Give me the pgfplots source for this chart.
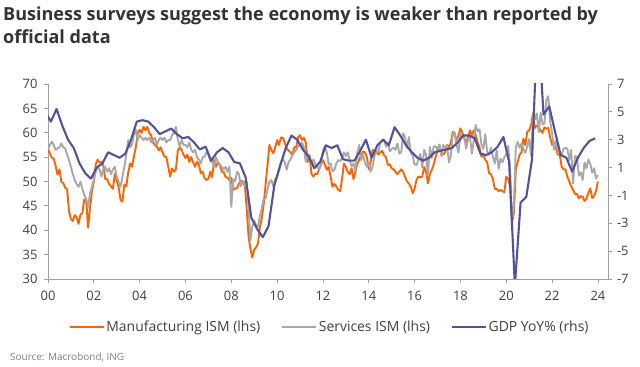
\documentclass[border=0pt]{standalone}
\usepackage{fontspec}
\setmainfont{Open Sans}
\usepackage{pgfplots}
\pgfplotsset{compat=1.18}
\usepackage{pgfplotstable}

\definecolor{ingorange}{HTML}{FF6200}
\definecolor{inggray}{HTML}{A8A8A8}
\definecolor{ingblue}{HTML}{525199}
\definecolor{axcol}{HTML}{A0A0A0}
\definecolor{labcol}{HTML}{404040}
\definecolor{titlecol}{HTML}{333333}
\definecolor{srccol}{HTML}{808080}

\pgfplotsset{legend image code/.code={\draw[#1,line width=1.6pt] (0bp,0bp) -- (34bp,0bp);}}

% Monthly ISM data, Jan 2000 .. Jan 2024 (ism = manufacturing, nmi = services)
\pgfplotstableread[row sep=\\]{
ism nmi\\
56.7 56.5\\ 55.8 57.5\\ 54.9 58.2\\ 54.7 57.5\\ 53.2 56.5\\ 51.4 56.8\\ 52.5 57.0\\ 49.9 57.8\\ 49.7 57.0\\ 48.7 56.8\\ 48.5 55.5\\ 43.9 54.4\\
42.3 53.0\\ 41.9 51.5\\ 43.1 50.3\\ 42.7 49.5\\ 41.3 48.9\\ 43.2 50.0\\ 43.5 48.5\\ 46.3 47.2\\ 46.2 46.5\\ 40.5 44.8\\ 44.5 47.5\\ 48.0 48.9\\
49.9 50.3\\ 53.5 52.0\\ 54.5 53.0\\ 53.9 52.5\\ 54.0 51.0\\ 53.2 52.5\\ 50.5 53.0\\ 50.5 52.0\\ 49.5 52.7\\ 49.0 51.5\\ 48.5 52.5\\ 51.6 53.0\\
50.3 51.0\\ 48.8 50.0\\ 46.2 48.9\\ 45.9 51.0\\ 49.4 53.0\\ 49.0 55.5\\ 51.8 58.5\\ 53.7 57.0\\ 53.0 57.6\\ 55.1 59.5\\ 57.0 60.6\\ 60.0 58.5\\
60.6 59.5\\ 60.0 59.0\\ 61.2 58.5\\ 60.5 59.0\\ 61.2 58.5\\ 60.0 59.0\\ 59.5 58.0\\ 58.0 58.5\\ 57.5 59.0\\ 57.2 57.5\\ 56.4 58.5\\ 57.0 59.0\\
56.0 58.5\\ 55.1 59.0\\ 55.0 58.0\\ 53.0 58.5\\ 51.0 58.5\\ 52.7 59.5\\ 52.0 60.0\\ 52.5 61.2\\ 56.4 58.5\\ 57.0 57.2\\ 56.5 58.5\\ 55.5 57.5\\
54.8 57.5\\ 55.5 57.0\\ 54.0 58.0\\ 55.0 56.5\\ 54.0 56.0\\ 53.0 56.5\\ 54.1 55.0\\ 53.5 54.5\\ 51.7 53.7\\ 52.0 55.0\\ 50.7 55.1\\ 50.3 56.0\\
50.5 55.5\\ 52.0 54.1\\ 50.9 54.0\\ 54.4 53.0\\ 53.0 55.0\\ 54.0 54.0\\ 53.4 53.5\\ 52.0 53.0\\ 52.0 52.5\\ 50.9 53.0\\ 50.8 52.0\\ 50.3 53.0\\
50.7 44.8\\ 48.3 50.5\\ 48.6 50.0\\ 48.6 52.0\\ 49.6 51.5\\ 50.2 49.0\\ 50.0 50.0\\ 49.9 49.0\\ 44.8 50.0\\ 38.9 45.0\\ 36.2 38.0\\ 34.4 40.7\\
36.0 42.0\\ 36.5 41.0\\ 37.3 40.7\\ 40.7 43.0\\ 42.5 44.5\\ 45.5 46.5\\ 49.5 46.5\\ 53.5 48.5\\ 57.5 50.0\\ 56.5 50.3\\ 55.8 49.0\\ 57.0 50.5\\
58.5 51.0\\ 57.5 52.4\\ 59.0 54.1\\ 59.0 54.5\\ 58.0 54.0\\ 56.8 52.4\\ 56.3 54.0\\ 56.0 54.5\\ 55.5 55.4\\ 57.0 56.0\\ 57.0 56.5\\ 59.1 57.2\\
59.5 57.5\\ 58.5 58.0\\ 59.0 57.0\\ 58.0 54.0\\ 54.0 55.5\\ 55.3 55.4\\ 51.5 53.5\\ 51.0 54.5\\ 51.6 53.5\\ 51.5 53.0\\ 52.5 52.5\\ 53.5 53.5\\
54.4 56.5\\ 53.5 57.2\\ 52.4 56.0\\ 53.0 53.5\\ 51.0 53.7\\ 48.9 52.1\\ 49.5 52.4\\ 49.0 53.7\\ 48.3 54.4\\ 48.0 54.2\\ 50.5 54.7\\ 53.7 56.0\\
53.0 55.2\\ 52.0 56.0\\ 51.5 54.4\\ 52.7 53.1\\ 50.5 53.7\\ 52.0 52.2\\ 53.6 56.0\\ 54.5 57.5\\ 55.4 54.4\\ 56.1 55.4\\ 56.0 53.9\\ 55.0 53.0\\
52.5 54.0\\ 54.0 52.0\\ 56.5 53.1\\ 56.0 55.2\\ 56.1 56.3\\ 55.5 56.0\\ 56.0 58.0\\ 56.3 58.5\\ 55.4 58.6\\ 55.0 57.1\\ 53.4 58.0\\ 53.5 56.2\\
52.7 56.7\\ 52.5 56.9\\ 52.0 56.5\\ 51.5 57.8\\ 52.0 55.7\\ 52.5 56.0\\ 52.0 59.9\\ 51.0 59.0\\ 50.0 56.9\\ 49.6 59.1\\ 48.9 55.9\\ 47.6 55.3\\
48.5 53.5\\ 50.3 53.4\\ 51.0 54.5\\ 50.9 55.7\\ 51.0 52.9\\ 53.0 56.5\\ 52.0 55.5\\ 49.6 51.4\\ 51.5 57.1\\ 52.4 54.8\\ 53.5 57.2\\ 55.0 57.2\\
56.5 56.5\\ 57.5 57.6\\ 55.8 55.2\\ 55.5 57.5\\ 56.0 56.9\\ 57.5 57.4\\ 57.0 53.9\\ 58.0 55.3\\ 60.2 59.8\\ 59.5 60.1\\ 58.5 57.4\\ 59.5 55.9\\
60.9 59.9\\ 60.0 59.5\\ 59.0 58.8\\ 58.0 56.8\\ 59.0 58.6\\ 60.5 59.1\\ 59.5 55.7\\ 60.5 58.5\\ 59.5 61.6\\ 58.0 60.3\\ 57.0 60.7\\ 55.1 57.6\\
55.5 56.7\\ 54.4 59.7\\ 54.0 56.1\\ 51.7 55.5\\ 51.5 56.9\\ 50.5 55.1\\ 48.5 53.7\\ 48.5 56.4\\ 48.0 52.6\\ 48.3 54.7\\ 48.0 53.9\\ 47.8 55.0\\
51.0 55.5\\ 50.5 57.3\\ 49.0 52.5\\ 41.5 41.8\\ 43.5 45.4\\ 52.5 57.1\\ 54.0 58.1\\ 55.5 56.9\\ 56.0 57.8\\ 58.8 56.6\\ 57.5 55.9\\ 60.2 57.2\\
60.5 58.7\\ 61.5 55.3\\ 64.0 63.7\\ 61.0 62.7\\ 61.5 64.0\\ 61.0 60.1\\ 60.5 64.1\\ 60.0 61.7\\ 61.1 61.9\\ 60.8 66.7\\ 61.0 67.5\\ 59.0 62.3\\
57.5 59.9\\ 58.0 56.5\\ 57.0 58.3\\ 55.5 57.1\\ 55.5 55.9\\ 53.0 55.3\\ 52.5 56.7\\ 52.5 56.9\\ 51.0 56.7\\ 50.0 54.4\\ 49.0 56.5\\ 48.3 49.6\\
47.4 55.2\\ 47.5 55.1\\ 46.5 51.2\\ 47.0 51.9\\ 46.9 50.3\\ 46.0 53.9\\ 46.5 52.7\\ 47.6 54.5\\ 48.6 53.6\\ 46.6 51.8\\ 47.0 52.7\\ 48.0 50.6\\
50.0 51.3\\
}\ismdata

% Quarterly GDP YoY %, plotted mid-quarter (1999Q4 .. 2023Q4)
\pgfplotstableread[row sep=\\]{
x gdp\\
-0.125 5.0\\ 0.125 4.3\\ 0.375 5.2\\ 0.625 4.0\\ 0.875 3.0\\
1.125 2.4\\ 1.375 1.3\\ 1.625 0.6\\ 1.875 0.2\\
2.125 1.0\\ 2.375 1.3\\ 2.625 2.1\\ 2.875 1.9\\
3.125 1.7\\ 3.375 2.0\\ 3.625 3.0\\ 3.875 4.3\\
4.125 4.4\\ 4.375 4.3\\ 4.625 3.9\\ 4.875 3.4\\
5.125 3.6\\ 5.375 3.8\\ 5.625 3.4\\ 5.875 3.1\\
6.125 3.2\\ 6.375 2.8\\ 6.625 2.3\\ 6.875 2.5\\
7.125 1.5\\ 7.375 2.1\\ 7.625 2.4\\ 7.875 2.1\\
8.125 1.4\\ 8.375 1.3\\ 8.625 0.3\\ 8.875 -2.6\\
9.125 -3.4\\ 9.375 -4.0\\ 9.625 -3.2\\ 9.875 -0.3\\
10.125 1.1\\ 10.375 2.4\\ 10.625 3.3\\ 10.875 3.0\\
11.125 2.3\\ 11.375 1.8\\ 11.625 0.95\\ 11.875 1.4\\
12.125 2.6\\ 12.375 2.4\\ 12.625 2.6\\ 12.875 1.6\\
13.125 1.5\\ 13.375 1.5\\ 13.625 2.2\\ 13.875 3.0\\
14.125 1.7\\ 14.375 2.6\\ 14.625 3.0\\ 14.875 2.6\\
15.125 3.9\\ 15.375 3.3\\ 15.625 2.6\\ 15.875 2.1\\
16.125 1.7\\ 16.375 1.5\\ 16.625 1.7\\ 16.875 2.1\\
17.125 2.2\\ 17.375 2.3\\ 17.625 2.4\\ 17.875 2.8\\
18.125 3.3\\ 18.375 3.3\\ 18.625 3.1\\ 18.875 2.0\\
19.125 1.9\\ 19.375 2.1\\ 19.625 2.5\\ 19.875 3.2\\
20.125 1.4\\ 20.375 -7.5\\ 20.625 -1.5\\ 20.875 -1.1\\
21.125 1.6\\ 21.375 12.0\\ 21.625 4.8\\ 21.875 5.4\\
22.125 3.6\\ 22.375 1.9\\ 22.625 1.7\\ 22.875 0.7\\
23.125 1.7\\ 23.375 2.4\\ 23.625 2.9\\ 23.875 3.1\\
}\gdpdata

\begin{document}
\begin{tikzpicture}
\useasboundingbox (0,0) rectangle (640bp,367bp);

\node[anchor=base west, inner sep=0pt, text=titlecol, font=\bfseries\fontsize{18.1}{21}\selectfont] at (3bp,346bp) {Business surveys suggest the economy is weaker than reported by};
\node[anchor=base west, inner sep=0pt, text=titlecol, font=\bfseries\fontsize{18.1}{21}\selectfont] at (3bp,323bp) {official data};

\begin{axis}[
  at={(48bp,88bp)}, anchor=south west,
  scale only axis, width=560bp, height=195bp,
  xmin=0, xmax=24.44, ymin=30, ymax=70,
  axis x line*=bottom, axis y line*=left,
  axis line style={draw=axcol, line width=0.8pt},
  xtick={0,2,4,6,8,10,12,14,16,18,20,22,24},
  xticklabels={00,02,04,06,08,10,12,14,16,18,20,22,24},
  ytick={30,35,40,45,50,55,60,65,70},
  tick align=outside,
  major tick length=4bp,
  tick style={draw=axcol, line width=0.8pt},
  tick label style={font=\fontsize{13}{15}\selectfont, text=labcol},
  xticklabel style={yshift=-5bp},
  yticklabel style={xshift=-3bp},
  /pgf/number format/assume math mode=true,
  legend columns=3,
  legend style={at={(0.503,-0.245)}, anchor=center, draw=none, fill=none,
    font=\fontsize{14}{16}\selectfont, text=labcol,
    /tikz/every even column/.append style={column sep=19bp}},
  legend cell align=left,
]
\addplot[ingorange, line width=1.9pt, line join=round] table[x expr=\coordindex/12, y=ism] {\ismdata};
\addlegendentry{Manufacturing ISM (lhs)}
\addplot[inggray, line width=1.9pt, line join=round] table[x expr=\coordindex/12, y=nmi] {\ismdata};
\addlegendentry{Services ISM (lhs)}
\addlegendimage{ingblue}
\addlegendentry{GDP YoY\% (rhs)}
\end{axis}

\begin{axis}[
  at={(48bp,88bp)}, anchor=south west,
  scale only axis, width=560bp, height=195bp,
  xmin=0, xmax=24.44, ymin=-7, ymax=7,
  axis y line*=right, axis x line=none,
  axis line style={draw=axcol, line width=0.8pt},
  ytick={-7,-5,-3,-1,1,3,5,7},
  tick align=outside,
  major tick length=4bp,
  tick style={draw=axcol, line width=0.8pt},
  tick label style={font=\fontsize{13}{15}\selectfont, text=labcol},
  yticklabel style={xshift=1.5bp},
  /pgf/number format/assume math mode=true,
]
\addplot[ingblue, line width=2.1pt, line join=round] table[x=x, y=gdp] {\gdpdata};
\end{axis}

\node[anchor=base west, inner sep=0pt, text=srccol, font=\fontsize{10}{12}\selectfont] at (10bp,7bp) {Source: Macrobond, ING};
\end{tikzpicture}
\end{document}
